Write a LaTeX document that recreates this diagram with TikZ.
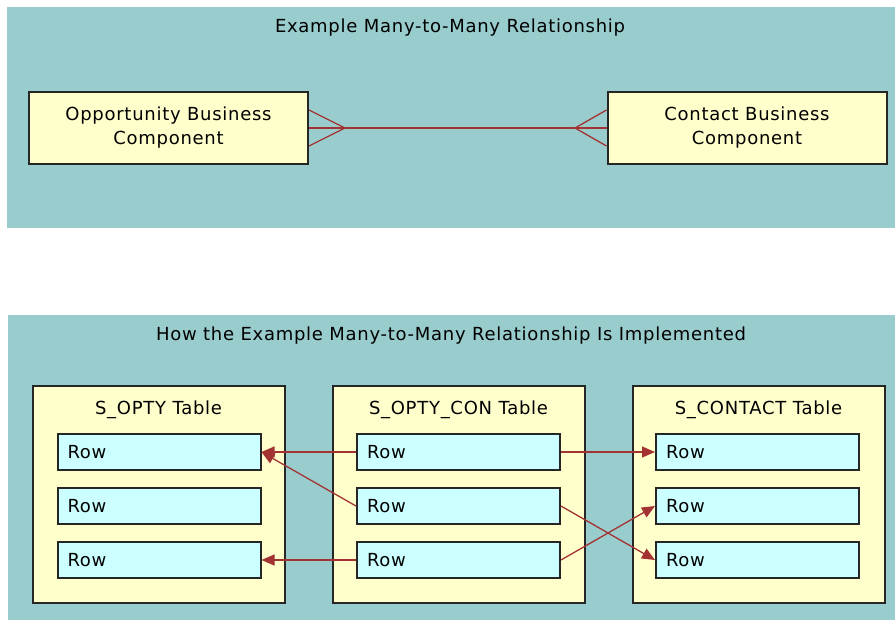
\documentclass[tikz,border=0pt]{standalone}
\usepackage{fontspec}
\setmainfont{DejaVu Sans}[LetterSpace=4]
\usetikzlibrary{positioning, arrows.meta, calc}
\definecolor{panelteal}{RGB}{153,204,204}
\definecolor{boxyellow}{RGB}{255,255,204}
\definecolor{rowcyan}{RGB}{204,255,255}
\definecolor{linkred}{RGB}{163,51,51}

\begin{document}
\begin{tikzpicture}[x=1pt, y=-1pt,
  panel/.style={fill=panelteal},
  comp/.style={draw=black!85, line width=2pt, fill=boxyellow, minimum width=279pt,
               minimum height=72pt, align=center, inner sep=0pt,
               font=\fontsize{18}{24}\selectfont},
  tbl/.style={draw=black!85, line width=2pt, fill=boxyellow, minimum width=252pt,
              minimum height=217pt, inner sep=0pt},
  rowbox/.style={draw=black!85, line width=2pt, fill=rowcyan, minimum height=36pt,
                 text width=183pt, inner xsep=10pt, inner ysep=0pt, align=left,
                 font=\fontsize{18}{20}\selectfont},
  ttl/.style={font=\fontsize{18}{20}\selectfont},
  rel/.style={linkred, line width=1.3pt},
  arr/.style={rel, -{Triangle[length=13pt, width=11pt]}}]
  \useasboundingbox (0,0) rectangle (895,621);
  % many-to-many relationship
  \fill[panel] (7,7) rectangle (895,228);
  \node[ttl] (relTitle) at (450,28) {Example Many-to-Many Relationship};
  \node[comp] (optyBC) at (168.5,128) {Opportunity Business\\Component};
  \node[comp] (conBC) at (747,128) {Contact Business\\Component};
  \coordinate (footL) at (345,128);
  \coordinate (footR) at (575,128);
  \draw[rel] (optyBC) -- (conBC);
  \draw[rel] ([yshift=18pt]optyBC.east) -- (footL) -- ([yshift=-18pt]optyBC.east);
  \draw[rel] ([yshift=18pt]conBC.west) -- (footR) -- ([yshift=-18pt]conBC.west);
  % implementation with intersection table
  \fill[panel] (8,315) rectangle (895,620);
  \node[ttl] (implTitle) at (451,336) {How the Example Many-to-Many Relationship Is Implemented};
  \node[tbl] (optyT) at (158.5,494.5) {};
  \node[tbl] (optyConT) at (458.5,494.5) {};
  \node[tbl] (contactT) at (758.5,494.5) {};
  \node[ttl, below=12pt of optyT.north] (optyName) {S\_OPTY Table};
  \node[ttl, below=12pt of optyConT.north] (optyConName) {S\_OPTY\_CON Table};
  \node[ttl, below=12pt of contactT.north] (contactName) {S\_CONTACT Table};
  \foreach \t/\x in {o/159, m/458.5, c/757.5}
    \foreach \i/\y in {1/452, 2/506, 3/560}
      \node[rowbox] (\t\i) at (\x,\y) {Row};
  \draw[arr] (m1) -- (o1);
  \draw[arr] (m2.west) -- (o1.east);
  \draw[arr] (m3) -- (o3);
  \draw[arr] (m1) -- (c1);
  \draw[arr] (m2.east) -- (c3.west);
  \draw[arr] (m3.east) -- (c2.west);
\end{tikzpicture}
\end{document}
